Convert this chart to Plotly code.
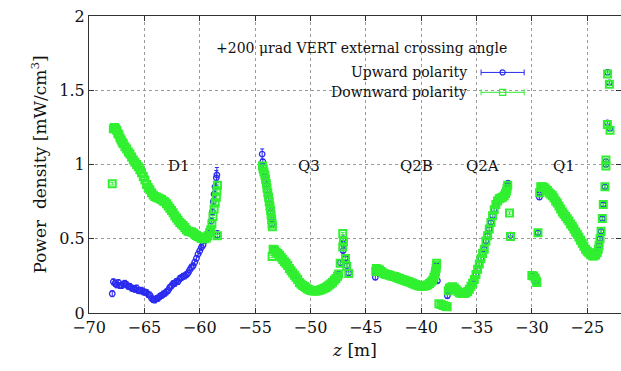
import plotly.graph_objects as go

# ---------------- data ----------------
up_z = [
    -67.9, -67.8, -67.65, -67.5, -67.35, -67.2, -67.05, -66.9, -66.75, -66.6, -66.45, -66.3, -66.15, -66.0,
    -65.85, -65.7, -65.55, -65.4, -65.25, -65.1, -64.95, -64.8, -64.65, -64.5, -64.35, -64.2, -64.05, -63.9,
    -63.75, -63.6, -63.45, -63.3, -63.15, -63.0, -62.85, -62.7, -62.55, -62.4, -62.25, -62.1, -61.95, -61.8,
    -61.65, -61.5, -61.35, -61.2, -61.05, -60.9, -60.75, -60.6, -60.45, -60.3, -60.15, -60.0, -59.85, -59.7,
    -59.55, -59.4, -59.25, -59.1, -58.95, -58.85, -58.78, -58.7, -58.62, -58.5, -58.45, -58.4,
    -54.36, -54.3, -54.25, -54.2, -54.15, -54.08, -54.0, -53.95, -53.9, -53.83, -53.76, -53.7, -53.65, -53.6,
    -53.55, -53.5, -53.46,
    -53.37, -53.25, -53.1, -52.95, -52.8, -52.65, -52.5, -52.35, -52.2, -52.05, -51.9, -51.75, -51.6, -51.45,
    -51.3, -51.15, -51.0, -50.85, -50.7, -50.55, -50.4, -50.25, -50.1, -49.95, -49.8, -49.65, -49.5, -49.35,
    -49.2, -49.05, -48.9, -48.75, -48.6, -48.45, -48.3, -48.15, -48.0, -47.85, -47.7, -47.55, -47.45,
    -47.05, -47.0, -47.05, -46.85, -46.7, -46.55, -47.3,
    -44.14, -44.1, -44.05, -43.9, -43.75, -43.6, -43.45, -43.3, -43.15, -43.0, -42.85, -42.7, -42.55, -42.4,
    -42.25, -42.1, -41.95, -41.8, -41.65, -41.5, -41.35, -41.2, -41.05, -40.9, -40.75, -40.6, -40.45, -40.3,
    -40.15, -40.0, -39.85, -39.7, -39.55, -39.4, -39.25, -39.1, -38.95, -38.85, -38.75, -38.7, -38.65, -38.62,
    -38.53,
    -37.63, -37.55, -37.45, -37.3, -37.15, -37.0, -36.85, -36.7, -36.55, -36.4, -36.25, -36.1, -35.95, -35.8,
    -35.65, -35.5, -35.35, -35.2, -35.05, -34.9, -34.75, -34.6, -34.45, -34.3, -34.15, -34.0, -33.85, -33.7,
    -33.55, -33.4, -33.25, -33.1, -32.95, -32.8, -32.65, -32.5, -32.38, -32.3, -32.24, -32.18, -32.15,
    -31.93,
    -30.0, -29.85, -29.7, -29.6, -29.55,
    -29.45, -29.32, -29.32, -29.28, -29.2, -29.05, -28.9, -28.75, -28.6, -28.45, -28.3, -28.15, -28.0, -27.85,
    -27.7, -27.55, -27.4, -27.25, -27.1, -26.95, -26.8, -26.65, -26.5, -26.35, -26.2, -26.05, -25.9, -25.75,
    -25.6, -25.45, -25.3, -25.15, -25.0, -24.85, -24.7, -24.55, -24.4, -24.25, -24.1, -24.0, -23.93, -23.84,
    -23.75, -23.64, -23.55, -23.4, -23.31, -23.31, -23.18, -22.94, -23.16, -23.0,
]
up_p = [
    0.13, 0.21, 0.2, 0.19, 0.205, 0.185, 0.185, 0.195, 0.2, 0.19, 0.18, 0.178, 0.168, 0.165,
    0.16, 0.168, 0.152, 0.15, 0.153, 0.143, 0.14, 0.137, 0.125, 0.12, 0.1, 0.09, 0.088, 0.097,
    0.1, 0.112, 0.118, 0.127, 0.133, 0.142, 0.153, 0.172, 0.183, 0.197, 0.2, 0.212, 0.213, 0.232,
    0.238, 0.247, 0.25, 0.258, 0.27, 0.29, 0.308, 0.318, 0.342, 0.368, 0.397, 0.418, 0.442, 0.458,
    0.487, 0.508, 0.537, 0.563, 0.62, 0.68, 0.75, 0.8, 0.85, 0.91, 0.93, 0.525,
    1.07, 1.02, 0.99, 0.96, 0.94, 0.92, 0.89, 0.865, 0.83, 0.8, 0.77, 0.74, 0.71, 0.68,
    0.65, 0.62, 0.6,
    0.43, 0.425, 0.41, 0.4, 0.39, 0.375, 0.36, 0.345, 0.335, 0.32, 0.3, 0.285, 0.27, 0.255,
    0.24, 0.225, 0.205, 0.195, 0.185, 0.178, 0.17, 0.162, 0.156, 0.152, 0.15, 0.148, 0.148, 0.15,
    0.153, 0.157, 0.162, 0.167, 0.172, 0.18, 0.188, 0.197, 0.207, 0.22, 0.232, 0.248, 0.262,
    0.5, 0.46, 0.42, 0.37, 0.32, 0.27, 0.34,
    0.24, 0.28, 0.3, 0.295, 0.29, 0.28, 0.27, 0.265, 0.26, 0.257, 0.254, 0.25, 0.248, 0.245,
    0.24, 0.235, 0.232, 0.228, 0.224, 0.22, 0.216, 0.212, 0.208, 0.203, 0.198, 0.194, 0.19, 0.186,
    0.182, 0.18, 0.18, 0.181, 0.185, 0.19, 0.198, 0.208, 0.22, 0.24, 0.26, 0.28, 0.3, 0.32,
    0.217,
    0.116, 0.15, 0.166, 0.174, 0.176, 0.168, 0.158, 0.146, 0.137, 0.133, 0.131, 0.132, 0.137, 0.145,
    0.16, 0.18, 0.2, 0.225, 0.26, 0.295, 0.33, 0.365, 0.4, 0.43, 0.485, 0.52, 0.565, 0.61,
    0.655, 0.695, 0.73, 0.755, 0.77, 0.775, 0.78, 0.79, 0.805, 0.82, 0.84, 0.86, 0.875,
    0.525,
    0.252, 0.25, 0.235, 0.215, 0.205,
    0.54, 0.78, 0.8, 0.83, 0.855, 0.85, 0.845, 0.835, 0.825, 0.81, 0.8, 0.79, 0.775, 0.755,
    0.74, 0.72, 0.7, 0.68, 0.665, 0.65, 0.635, 0.62, 0.6, 0.585, 0.565, 0.545, 0.53, 0.51,
    0.49, 0.47, 0.45, 0.43, 0.415, 0.405, 0.395, 0.385, 0.383, 0.39, 0.405, 0.43, 0.456, 0.5,
    0.55, 0.636, 0.73, 0.85, 1.0, 1.02, 1.28, 1.24, 1.62, 1.55,
]
up_err = [0.02] * 68 + [0.035] + [0.015] * (len(up_z) - 69)
up_err[65] = 0.05
up_err[66] = 0.05
up_err[67] = 0.03

down_z = [
    -67.9, -67.8, -67.7, -67.6, -67.5, -67.4, -67.3, -67.2, -67.1, -67.0, -66.9, -66.75, -66.6, -66.45,
    -66.3, -66.15, -66.0, -65.85, -65.7, -65.55, -65.4, -65.25, -65.1, -64.95, -64.8, -64.65, -64.5, -64.35,
    -64.2, -64.05, -63.9, -63.75, -63.6, -63.45, -63.3, -63.15, -63.0, -62.85, -62.7, -62.55, -62.4, -62.25,
    -62.1, -61.95, -61.8, -61.65, -61.5, -61.35, -61.2, -61.05, -60.9, -60.75, -60.6, -60.45, -60.3, -60.15,
    -60.0, -59.85, -59.7, -59.55, -59.4, -59.25, -59.1, -59.0, -58.9, -58.8, -58.7, -58.6, -58.5, -58.45,
    -58.4, -58.4,
    -54.33, -54.27, -54.2, -54.12, -54.05, -53.98, -53.92, -53.85, -53.78, -53.72, -53.66, -53.6, -53.55, -53.5,
    -53.46, -53.44,
    -53.46, -53.37, -53.25, -53.1, -52.95, -52.8, -52.65, -52.5, -52.35, -52.2, -52.05, -51.9, -51.75, -51.6,
    -51.45, -51.3, -51.15, -51.0, -50.85, -50.7, -50.55, -50.4, -50.25, -50.1, -49.95, -49.8, -49.65, -49.5,
    -49.35, -49.2, -49.05, -48.9, -48.75, -48.6, -48.45, -48.3, -48.15, -48.0, -47.85, -47.7, -47.55, -47.45,
    -47.08, -47.02, -47.08, -47.31, -46.83, -46.72, -46.54,
    -44.1, -44.05, -43.9, -43.75, -43.6, -43.45, -43.3, -43.15, -43.0, -42.85, -42.7, -42.55, -42.4, -42.25,
    -42.1, -41.95, -41.8, -41.65, -41.5, -41.35, -41.2, -41.05, -40.9, -40.75, -40.6, -40.45, -40.3, -40.15,
    -40.0, -39.85, -39.7, -39.55, -39.4, -39.25, -39.1, -38.95, -38.85, -38.75, -38.7, -38.65, -38.62, -38.6,
    -38.4, -38.2, -38.0, -37.8, -37.65,
    -37.55, -37.45, -37.3, -37.15, -37.0, -36.85, -36.7, -36.55, -36.4, -36.25, -36.1, -35.95, -35.8, -35.65,
    -35.5, -35.35, -35.2, -35.05, -34.9, -34.75, -34.6, -34.45, -34.3, -34.15, -34.0, -33.85, -33.7, -33.55,
    -33.4, -33.25, -33.1, -32.95, -32.8, -32.65, -32.5, -32.38, -32.3, -32.24, -32.18,
    -32.02, -31.93,
    -30.0, -29.85, -29.7, -29.6, -29.55,
    -29.45, -29.3, -29.2, -29.05, -28.9, -28.75, -28.6, -28.45, -28.3, -28.15, -28.0, -27.85, -27.7, -27.55,
    -27.4, -27.25, -27.1, -26.95, -26.8, -26.65, -26.5, -26.35, -26.2, -26.05, -25.9, -25.75, -25.6, -25.45,
    -25.3, -25.15, -25.0, -24.85, -24.7, -24.55, -24.4, -24.25, -24.1, -24.0, -23.93, -23.84, -23.75, -23.64,
    -23.55, -23.4, -23.31, -23.31, -23.18, -22.94, -23.16, -23.0,
]
down_p = [
    0.87, 1.24, 1.25, 1.24, 1.23, 1.21, 1.2, 1.18, 1.165, 1.15, 1.14, 1.12, 1.105, 1.085,
    1.07, 1.05, 1.03, 1.015, 1.0, 0.985, 0.965, 0.945, 0.92, 0.895, 0.865, 0.845, 0.83, 0.81,
    0.795, 0.785, 0.78, 0.775, 0.77, 0.765, 0.755, 0.75, 0.735, 0.72, 0.705, 0.69, 0.675, 0.655,
    0.64, 0.625, 0.61, 0.6, 0.59, 0.575, 0.56, 0.55, 0.548, 0.545, 0.54, 0.53, 0.522, 0.515,
    0.51, 0.502, 0.5, 0.5, 0.505, 0.52, 0.54, 0.56, 0.6, 0.65, 0.7, 0.74, 0.78, 0.82,
    0.86, 0.52,
    0.99, 0.97, 0.95, 0.93, 0.9, 0.87, 0.84, 0.81, 0.78, 0.75, 0.72, 0.69, 0.66, 0.63,
    0.6, 0.58,
    0.38, 0.43, 0.425, 0.41, 0.4, 0.39, 0.375, 0.36, 0.345, 0.335, 0.32, 0.3, 0.285, 0.27,
    0.255, 0.24, 0.225, 0.205, 0.195, 0.185, 0.178, 0.17, 0.162, 0.156, 0.152, 0.15, 0.148, 0.148,
    0.15, 0.153, 0.157, 0.162, 0.167, 0.172, 0.18, 0.188, 0.197, 0.207, 0.22, 0.232, 0.248, 0.262,
    0.535, 0.48, 0.445, 0.335, 0.367, 0.315, 0.266,
    0.28, 0.3, 0.295, 0.29, 0.28, 0.27, 0.265, 0.26, 0.257, 0.254, 0.25, 0.248, 0.245, 0.24,
    0.235, 0.232, 0.228, 0.224, 0.22, 0.216, 0.212, 0.208, 0.203, 0.198, 0.194, 0.19, 0.186, 0.182,
    0.18, 0.18, 0.181, 0.185, 0.19, 0.198, 0.208, 0.22, 0.24, 0.26, 0.28, 0.3, 0.32, 0.335,
    0.063, 0.057, 0.05, 0.046, 0.042,
    0.15, 0.166, 0.174, 0.176, 0.168, 0.158, 0.146, 0.137, 0.133, 0.131, 0.132, 0.137, 0.145, 0.16,
    0.18, 0.2, 0.225, 0.26, 0.295, 0.33, 0.365, 0.4, 0.43, 0.485, 0.52, 0.565, 0.61, 0.655,
    0.695, 0.73, 0.755, 0.77, 0.775, 0.78, 0.79, 0.805, 0.82, 0.84, 0.86,
    0.673, 0.515,
    0.252, 0.25, 0.235, 0.215, 0.205,
    0.54, 0.81, 0.85, 0.85, 0.845, 0.835, 0.825, 0.81, 0.8, 0.79, 0.775, 0.755, 0.74, 0.72,
    0.7, 0.68, 0.665, 0.65, 0.635, 0.62, 0.6, 0.585, 0.565, 0.545, 0.53, 0.51, 0.49, 0.47,
    0.45, 0.43, 0.415, 0.405, 0.395, 0.385, 0.383, 0.39, 0.405, 0.43, 0.456, 0.5, 0.55, 0.636,
    0.73, 0.85, 0.99, 1.03, 1.27, 1.23, 1.61, 1.54,
]
down_err = [0.008] * len(down_z)

zone_names = ["D1", "Q3", "Q2B", "Q2A", "Q1"]
zone_z = [-61.9, -50.1, -40.4, -34.5, -27.1]
zone_p = [0.99, 0.99, 0.99, 0.99, 0.99]

x_ticks = [-70, -65, -60, -55, -50, -45, -40, -35, -30, -25]
y_ticks = [0, 0.5, 1, 1.5, 2]

BLUE = "#2a2af0"
GREEN = "#30f030"
FONT = "DejaVu Serif"

fig = go.Figure()
fig.add_trace(go.Scatter(
    x=up_z, y=up_p, mode="markers", name="Upward polarity",
    marker=dict(symbol="circle-open", size=5.5, color=BLUE, line=dict(width=1.3, color=BLUE)),
    error_y=dict(type="data", array=up_err, color=BLUE, thickness=1, width=2),
    showlegend=False,
))
fig.add_trace(go.Scatter(
    x=down_z, y=down_p, mode="markers", name="Downward polarity",
    marker=dict(symbol="square-open", size=7, color=GREEN, line=dict(width=2, color=GREEN)),
    error_y=dict(type="data", array=down_err, color=GREEN, thickness=1, width=2),
    showlegend=False,
))

annotations = []
for name, zx, py in zip(zone_names, zone_z, zone_p):
    annotations.append(dict(x=zx, y=py, xref="x", yref="y", text=name, showarrow=False,
                            font=dict(family=FONT, size=15, color="#111"), xanchor="center", yanchor="middle"))

annotations.append(dict(x=0.513, y=0.893, xref="paper", yref="paper",
                        text="+200 \u03bcrad VERT external crossing angle", showarrow=False,
                        font=dict(family=FONT, size=14, color="#111"), xanchor="center", yanchor="middle"))

shapes = []
legend_items = [("Upward polarity", BLUE, 0.81, "circle"), ("Downward polarity", GREEN, 0.743, "rect")]
for label, col, ly, sym in legend_items:
    annotations.append(dict(x=0.715, y=ly, xref="paper", yref="paper", text=label, showarrow=False,
                            font=dict(family=FONT, size=14, color="#111"), xanchor="right", yanchor="middle"))
    x0, x1 = 0.737, 0.818
    shapes.append(dict(type="line", xref="paper", yref="paper", x0=x0, x1=x1, y0=ly, y1=ly,
                       line=dict(color=col, width=1)))
    for xe in (x0, x1):
        shapes.append(dict(type="line", xref="paper", yref="paper", x0=xe, x1=xe, y0=ly - 0.01, y1=ly + 0.01,
                           line=dict(color=col, width=1)))
    xm = (x0 + x1) / 2
    hx, hy = (0.0048, 0.0085) if sym == "circle" else (0.0058, 0.0101)
    shapes.append(dict(type=sym, xref="paper", yref="paper", x0=xm - hx, x1=xm + hx, y0=ly - hy, y1=ly + hy,
                       line=dict(color=col, width=1.2), fillcolor="rgba(0,0,0,0)"))

axis_common = dict(
    showline=True, linecolor="#333", linewidth=1.2, mirror="ticks",
    ticks="inside", ticklen=5, tickcolor="#333", tickwidth=1,
    showgrid=True, gridcolor="#9a9a9a", griddash="dot", gridwidth=1,
    zeroline=False, tickfont=dict(family=FONT, size=16, color="#111"),
)

fig.update_layout(
    width=621, height=371,
    margin=dict(l=89, r=0, t=16, b=58),
    paper_bgcolor="white", plot_bgcolor="white",
    font=dict(family=FONT, color="#111"),
    xaxis=dict(range=[-70, -21.95], tickvals=x_ticks,
               title=dict(text="<i>z</i> [m]", font=dict(family=FONT, size=17), standoff=7),
               **axis_common),
    yaxis=dict(range=[0, 2], tickvals=y_ticks, ticktext=["0", "0.5", "1", "1.5", "2"],
               title=dict(text="Power  density [mW/cm<sup>3</sup>]", font=dict(family=FONT, size=17), standoff=8),
               **axis_common),
    annotations=annotations,
    shapes=shapes,
)

fig.write_html("out.html")
